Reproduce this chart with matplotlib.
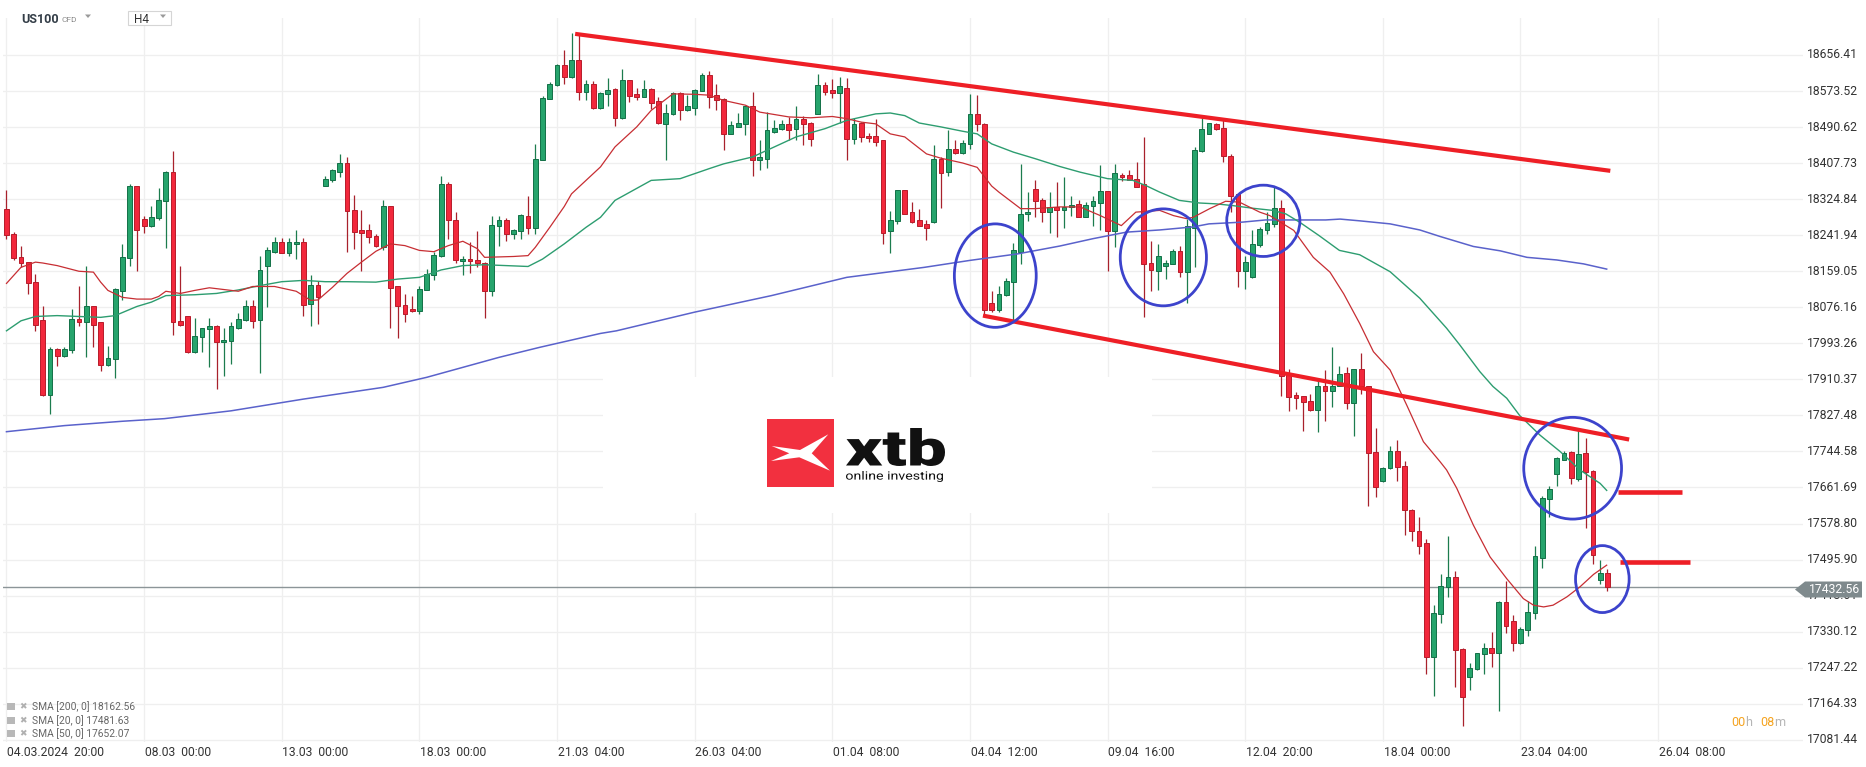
import matplotlib
matplotlib.use('Agg')
import matplotlib.pyplot as plt
import numpy as np
from matplotlib.patches import Rectangle, Polygon, Ellipse, PathPatch
from matplotlib.textpath import TextPath
from matplotlib.font_manager import FontProperties
from matplotlib.transforms import Affine2D, blended_transform_factory

plt.rcParams['font.family'] = ['Roboto', 'DejaVu Sans']

# ---------------------------------------------------------------
# US100 H4 candles (one per bar, oldest first)
opens = [18303, 18245, 18192, 18180, 18135, 18047, 17874, 17980, 17963, 17978,
         18049, 18042, 18078, 18042, 17943, 17957, 18113, 18189, 18354, 18280,
         18263, 18282, 18320, 18387, 18044, 18055, 17973, 18007, 18026, 18032,
         17996, 17999, 18028, 18047, 18080, 18047, 18171, 18203, 18227, 18201,
         18222, 18227, 18084, 18128, 18356, 18368, 18387, 18409, 18300, 18253,
         18253, 18241, 18214, 18308, 18124, 18082, 18072, 18067, 18116, 18151,
         18193, 18359, 18277, 18182, 18187, 18184, 18178, 18113, 18263, 18277,
         18245, 18251, 18286, 18258, 18415, 18556, 18587, 18634, 18606, 18646,
         18571, 18590, 18534, 18567, 18579, 18512, 18598, 18567, 18560, 18579,
         18550, 18498, 18521, 18570, 18529, 18535, 18574, 18610, 18564, 18556,
         18475, 18491, 18498, 18538, 18415, 18418, 18479, 18486, 18497, 18487,
         18510, 18501, 18521, 18588, 18575, 18569, 18581, 18464, 18500, 18471,
         18471, 18460, 18251, 18274, 18346, 18295, 18276, 18267, 18272, 18418,
         18387, 18441, 18432, 18452, 18520, 18498, 18086, 18069, 18105, 18134,
         18203, 18290, 18349, 18323, 18295, 18306, 18299, 18306, 18314, 18284,
         18309, 18316, 18343, 18251, 18381, 18381, 18372, 18360, 18178, 18159,
         18171, 18176, 18205, 18157, 18259, 18435, 18475, 18498, 18489, 18425,
         18337, 18159, 18145, 18220, 18255, 18268, 18305, 17923, 17875, 17871,
         17861, 17840, 17896, 17883, 17896, 17925, 17857, 17934, 17895, 17744,
         17676, 17706, 17746, 17712, 17611, 17562, 17533, 17272, 17370, 17433,
         17456, 17291, 17226, 17245, 17278, 17293, 17281, 17399, 17355, 17304,
         17333, 17373, 17500, 17635, 17693, 17725, 17744, 17681, 17740, 17700,
         17450, 17465]
highs = [18345, 18250, 18216, 18181, 18153, 18080, 17984, 17982, 17984, 18072,
         18124, 18172, 18079, 18043, 17986, 18120, 18222, 18360, 18356, 18287,
         18308, 18350, 18389, 18435, 18172, 18056, 18052, 18029, 18052, 18036,
         18028, 18042, 18062, 18092, 18092, 18195, 18214, 18237, 18235, 18235,
         18254, 18235, 18151, 18136, 18379, 18395, 18428, 18422, 18335, 18299,
         18267, 18245, 18322, 18310, 18126, 18107, 18103, 18124, 18164, 18203,
         18379, 18364, 18296, 18195, 18226, 18251, 18180, 18287, 18285, 18282,
         18257, 18291, 18333, 18452, 18561, 18594, 18636, 18667, 18708, 18706,
         18600, 18596, 18571, 18604, 18581, 18625, 18600, 18581, 18600, 18580,
         18560, 18544, 18571, 18571, 18564, 18578, 18615, 18620, 18589, 18557,
         18504, 18524, 18539, 18571, 18460, 18525, 18506, 18508, 18514, 18538,
         18515, 18502, 18612, 18594, 18602, 18606, 18604, 18512, 18502, 18477,
         18510, 18461, 18297, 18346, 18347, 18318, 18303, 18276, 18450, 18422,
         18483, 18460, 18460, 18567, 18565, 18500, 18113, 18124, 18144, 18224,
         18406, 18341, 18369, 18328, 18341, 18364, 18375, 18331, 18324, 18318,
         18333, 18403, 18344, 18406, 18385, 18391, 18410, 18468, 18228, 18222,
         18184, 18211, 18216, 18280, 18445, 18512, 18501, 18499, 18506, 18428,
         18338, 18195, 18253, 18261, 18295, 18353, 18323, 17934, 17881, 17873,
         17877, 17911, 17933, 17984, 17942, 17938, 17935, 17970, 17896, 17798,
         17709, 17756, 17772, 17723, 17612, 17594, 17543, 17391, 17462, 17551,
         17470, 17292, 17259, 17282, 17303, 17330, 17400, 17447, 17369, 17341,
         17401, 17528, 17643, 17666, 17731, 17746, 17745, 17795, 17776, 17702,
         17495, 17475]
lows = [18233, 18185, 18168, 18107, 18022, 17872, 17831, 17940, 17961, 17971,
        18032, 17961, 17984, 17930, 17940, 17913, 18092, 18172, 18159, 18247,
        18260, 18277, 18213, 18012, 18034, 17971, 17971, 17973, 17938, 17888,
        17917, 17946, 18026, 18045, 18028, 17926, 18076, 18202, 18200, 18195,
        18188, 18055, 18033, 18038, 18354, 18364, 18376, 18203, 18211, 18159,
        18224, 18214, 18207, 18028, 18005, 18042, 18065, 18061, 18115, 18139,
        18191, 18233, 18178, 18151, 18154, 18168, 18051, 18103, 18217, 18228,
        18233, 18233, 18245, 18245, 18414, 18555, 18584, 18590, 18604, 18552,
        18554, 18533, 18533, 18538, 18492, 18510, 18548, 18554, 18559, 18533,
        18497, 18414, 18518, 18506, 18527, 18518, 18573, 18535, 18529, 18439,
        18474, 18490, 18472, 18378, 18391, 18396, 18478, 18485, 18460, 18460,
        18450, 18447, 18520, 18564, 18558, 18501, 18414, 18452, 18456, 18456,
        18448, 18222, 18201, 18268, 18290, 18271, 18262, 18232, 18271, 18305,
        18378, 18429, 18429, 18441, 18481, 18057, 18065, 18065, 18102, 18045,
        18176, 18274, 18283, 18272, 18247, 18237, 18258, 18285, 18283, 18283,
        18264, 18253, 18159, 18214, 18366, 18368, 18352, 18053, 18113, 18117,
        18142, 18175, 18145, 18086, 18168, 18434, 18474, 18483, 18410, 18295,
        18122, 18119, 18144, 18214, 18244, 18261, 17873, 17838, 17842, 17792,
        17838, 17789, 17815, 17846, 17894, 17842, 17780, 17877, 17619, 17639,
        17675, 17704, 17676, 17552, 17539, 17508, 17232, 17182, 17350, 17410,
        17203, 17113, 17195, 17243, 17232, 17249, 17148, 17327, 17286, 17301,
        17320, 17359, 17477, 17593, 17666, 17724, 17670, 17677, 17569, 17485,
        17440, 17423]
closes = [18243, 18189, 18178, 18132, 18036, 17874, 17980, 17963, 17980, 18049,
          18042, 18078, 18036, 17943, 17959, 18118, 18191, 18354, 18253, 18263,
          18283, 18323, 18387, 18042, 18036, 17973, 18011, 18028, 18032, 17996,
          18002, 18032, 18049, 18080, 18044, 18161, 18207, 18227, 18201, 18227,
          18227, 18082, 18128, 18099, 18372, 18392, 18409, 18297, 18249, 18247,
          18237, 18217, 18308, 18121, 18080, 18061, 18067, 18118, 18153, 18197,
          18359, 18276, 18185, 18187, 18182, 18178, 18113, 18266, 18277, 18245,
          18254, 18289, 18258, 18418, 18558, 18590, 18634, 18606, 18646, 18571,
          18590, 18534, 18570, 18575, 18512, 18598, 18562, 18560, 18579, 18546,
          18500, 18523, 18570, 18531, 18538, 18577, 18610, 18560, 18554, 18475,
          18495, 18501, 18538, 18415, 18422, 18485, 18489, 18497, 18485, 18510,
          18497, 18464, 18588, 18571, 18569, 18586, 18464, 18498, 18468, 18466,
          18456, 18247, 18277, 18345, 18291, 18272, 18263, 18258, 18418, 18385,
          18441, 18432, 18455, 18520, 18497, 18069, 18069, 18107, 18136, 18207,
          18291, 18296, 18320, 18295, 18306, 18300, 18306, 18312, 18284, 18312,
          18320, 18343, 18251, 18386, 18376, 18370, 18353, 18176, 18162, 18193,
          18178, 18205, 18157, 18262, 18437, 18487, 18500, 18487, 18425, 18333,
          18159, 18180, 18222, 18257, 18270, 18305, 17919, 17869, 17868, 17858,
          17840, 17896, 17883, 17894, 17923, 17856, 17934, 17894, 17742, 17663,
          17707, 17746, 17709, 17611, 17562, 17528, 17272, 17374, 17435, 17456,
          17289, 17180, 17247, 17281, 17293, 17281, 17399, 17343, 17304, 17337,
          17376, 17505, 17638, 17658, 17730, 17742, 17683, 17738, 17698, 17506,
          17466, 17432.56]

# moving averages, read at sampled bars
sma20_bars = [0, 2, 4, 5, 7, 10, 12, 13, 14, 16, 18, 20, 21, 22, 24, 26, 28, 31, 32, 34,
              37, 40, 42, 43, 45, 47, 49, 51, 53, 55, 57, 59, 61, 63, 65, 66, 70, 72, 73, 75,
              77, 78, 80, 82, 84, 87, 89, 92, 95, 97, 99, 102, 104, 108, 111, 114, 116, 118, 120, 122,
              124, 127, 129, 132, 134, 136, 137, 140, 142, 145.4, 148.2, 151, 153.9, 155.9, 159.2,
              161.1, 162.9, 163.8, 166.1, 168.3, 170.2, 173, 174.4, 177.7, 180.4, 182.7, 184.6,
              186.8, 188.7, 191, 193.3, 195.6, 197.9, 198.8, 200.2, 202.5, 204.8, 207.1, 209.4,
              210.8, 212.2, 213.5, 215.4, 217.2, 219.1, 220.9]
sma20_vals = [18131, 18168, 18180, 18178, 18172, 18159, 18157, 18134, 18115, 18099, 18095, 18095, 18101,
              18113, 18108, 18115, 18121, 18115, 18113, 18124, 18124, 18113, 18092, 18093, 18122, 18154,
              18180, 18205, 18222, 18218, 18207, 18204, 18218, 18228, 18211, 18191, 18193, 18195, 18214,
              18260, 18308, 18337, 18368, 18399, 18445, 18491, 18529, 18567, 18566, 18564, 18552, 18541,
              18525, 18514, 18512, 18515, 18510, 18502, 18498, 18475, 18468, 18429, 18419, 18408, 18398,
              18355, 18341, 18303, 18303, 18307, 18307, 18287, 18264, 18295, 18299, 18287, 18280, 18283,
              18303, 18320, 18318, 18295, 18287, 18253, 18191, 18157, 18107, 18039, 17974, 17932, 17851,
              17767, 17721, 17702, 17660, 17575, 17502, 17452, 17406, 17391, 17387, 17391, 17410, 17433,
              17462, 17483]
sma50_bars = [0, 2, 4, 7, 10, 13, 15, 18, 20, 22, 26, 29, 32, 35, 38, 41, 44, 47, 51, 54,
              57, 60, 63, 66, 69, 72, 74, 77, 80, 82, 84, 89, 93, 97, 99, 103, 106, 109, 113, 116,
              120, 122, 124, 126, 129, 132, 134, 136, 139, 142, 145.4, 148.2, 152, 155.5, 157.3,
              159.2, 161.9, 164.7, 167, 169.3, 172, 174.8, 176.6, 178.5, 181.2, 184, 186.8, 191,
              195.1, 198.8, 200.6, 203.4, 205.2, 207.1, 208.9, 211.7, 214.5, 217.2, 220, 220.9]
sma50_vals = [18022, 18045, 18055, 18057, 18055, 18053, 18057, 18078, 18088, 18103, 18105, 18108, 18116,
              18126, 18135, 18138, 18135, 18135, 18134, 18141, 18145, 18162, 18172, 18174, 18172, 18170,
              18187, 18222, 18260, 18283, 18322, 18368, 18372, 18395, 18406, 18422, 18445, 18468, 18487,
              18506, 18521, 18523, 18517, 18500, 18491, 18481, 18475, 18452, 18433, 18418, 18400, 18387,
              18372, 18368, 18356, 18341, 18322, 18316, 18314, 18310, 18304, 18299, 18291, 18272, 18241,
              18207, 18197, 18158, 18097, 18028, 17990, 17928, 17894, 17867, 17827, 17782, 17744, 17702,
              17671, 17655]
sma200_bars = [0, 8, 16, 21.8, 31, 41, 52, 58, 63, 68, 73.6, 82, 84.2, 95, 105.6, 116, 126.7, 133,
               139.6, 145.4, 150, 154.6, 159.2, 163.8, 166, 170.6, 173.8, 177.5, 182.1, 184.1, 186.8,
               191, 195.1, 197.9, 202.5, 206.2, 209.9, 214, 217.7, 220.9]
sma200_vals = [17790, 17804, 17814, 17820, 17838, 17865, 17892, 17915, 17938, 17961, 17984, 18016, 18022,
               18065, 18103, 18145, 18168, 18184, 18199, 18217, 18234, 18249, 18254, 18261, 18268, 18272,
               18277, 18277, 18277, 18279, 18275, 18268, 18254, 18239, 18216, 18206, 18191, 18185, 18176,
               18164]

price_levels = [18656.41, 18573.52, 18490.62, 18407.73, 18324.84, 18241.94, 18159.05, 18076.16,
                17993.26, 17910.37, 17827.48, 17744.58, 17661.69, 17578.80, 17495.90, 17413.01,
                17330.12, 17247.22, 17164.33, 17081.44]
date_bars = [0, 19, 38, 57, 76, 95, 114, 133, 152, 171, 190, 209, 228]
date_labels = ['04.03.2024  20:00', '08.03  00:00', '13.03  00:00', '18.03  00:00', '21.03  04:00',
               '26.03  04:00', '01.04  08:00', '04.04  12:00', '09.04  16:00', '12.04  20:00',
               '18.04  00:00', '23.04  04:00', '26.04  08:00']
last_price = 17432.56
sma_legend = ['SMA [200, 0] 18162.56', 'SMA [20, 0] 17481.63', 'SMA [50, 0] 17652.07']

# hand drawn annotations (bar, price)
top_line_bars, top_line_vals = [78.5, 221.4], [18705, 18390]
low_line_bars, low_line_vals = [134.8, 224.0], [18057, 17772]
target_levels = [17651, 17490]
target_starts = [222.5, 222.7]
target_ends = [231.3, 232.4]
circle_bars = [136.5, 159.7, 173.5, 216.2, 220.3]
circle_vals = [18149, 18191, 18275, 17706, 17451]
circle_w = [11.3, 11.9, 10.1, 13.5, 7.4]
circle_h = [238, 223, 164, 234, 154]

# ---------------------------------------------------------------
W, H = 1866, 767
fig = plt.figure(figsize=(W / 100, H / 100), dpi=100)
fig.patch.set_facecolor('white')
ax = fig.add_axes([3 / W, 1 - 742 / H, 1800 / W, 724 / H])
ax.set_xlim(-0.48, 248.0)
ax.set_ylim(17076.3, 18741.5)
ax.axis('off')

# pixel transform (x right, y down, like the screenshot)
tpx = Affine2D().scale(1, -1).translate(0, H)

# grid
for p in price_levels:
    ax.axhline(p, color='#efefef', lw=0.9, zorder=0)
for b in date_bars:
    ax.axvline(b, color='#efefef', lw=0.9, zorder=0)
# white box behind logo hides the grid
ax.add_patch(Rectangle((603 / W, 1 - 513 / H), 549 / W, 136 / H, transform=fig.transFigure,
                       fc='white', ec='none', zorder=0.5))

ax.axhline(last_price, color='#8c9598', lw=1.0, zorder=1)

# candles
x = np.arange(len(opens))
o, hi, lo, c = map(np.array, (opens, highs, lows, closes))
up = c >= o
ax.vlines(x, lo, hi, colors=['#1c7c4e' if u else '#a8212c' for u in up], lw=0.9, zorder=2)
ax.bar(x, np.maximum(np.abs(c - o), 2.0), bottom=np.minimum(o, c), width=0.66,
       color=['#26a46c' if u else '#f2283c' for u in up],
       edgecolor=['#137047' if u else '#b81c2a' for u in up], linewidth=0.7, zorder=3)

# moving averages
ax.plot(sma200_bars, sma200_vals, color='#5a62cb', lw=1.1, zorder=4)
ax.plot(sma50_bars, sma50_vals, color='#2d9d70', lw=1.0, zorder=4)
ax.plot(sma20_bars, sma20_vals, color='#c72e33', lw=0.9, zorder=4)

# channel / targets / circles
ax.plot(top_line_bars, top_line_vals, color='#ee1f26', lw=3, solid_capstyle='butt', zorder=5)
ax.plot(low_line_bars, low_line_vals, color='#ee1f26', lw=3, solid_capstyle='butt', zorder=5)
for lv, s, e in zip(target_levels, target_starts, target_ends):
    ax.plot([s, e], [lv, lv], color='#ee1f26', lw=3.3, solid_capstyle='butt', zorder=5)
for cx, cy, w, h in zip(circle_bars, circle_vals, circle_w, circle_h):
    ax.add_patch(Ellipse((cx, cy), w, h, fill=False, ec='#3c43cc', lw=2, zorder=6))

# axis labels
tr = blended_transform_factory(fig.transFigure, ax.transData)
for p in price_levels:
    fig.text(1807 / W, p, f'{p:.2f}', transform=tr, ha='left', va='center', fontsize=8.7, color='#333333')
tb = blended_transform_factory(ax.transData, fig.transFigure)
for b, s in zip(date_bars, date_labels):
    ax.text(b + 0.1, 1 - 752 / H, s, transform=tb, ha='left', va='center', fontsize=8.7,
            color='#333333', clip_on=False)

# last price tag
fig.add_artist(Polygon([(1795, 589.5), (1805, 581.5), (1862, 581.5), (1862, 597.5), (1805, 597.5)],
                       closed=True, fc='#7f8a8d', ec='none', transform=tpx, zorder=10))
fig.text(1834 / W, 1 - 589.5 / H, f'{last_price:.2f}', ha='center', va='center', fontsize=8.7,
         color='white', zorder=11)

# countdown
for s, xx, col in [('00', 1731, '#f5a31f'), ('h', 1745, '#b5b5b5'),
                   ('08', 1760, '#f5a31f'), ('m', 1774, '#b5b5b5')]:
    fig.text(xx / W, 1 - 722 / H, s, color=col, fontsize=9, va='center')

# header
fig.text(21 / W, 1 - 19.5 / H, 'US100', fontsize=9, fontweight='bold', color='#333d47', va='center')
fig.text(61 / W, 1 - 20 / H, 'CFD', fontsize=6, color='#8a8a8a', va='center')
fig.add_artist(Polygon([(85, 14.5), (91, 14.5), (88, 18)], closed=True, fc='#9a9a9a', ec='none',
                       transform=tpx))
fig.add_artist(Rectangle((128, 11), 43, 14, fc='white', ec='#d5d5d5', lw=0.8, transform=tpx))
fig.text(134 / W, 1 - 19.5 / H, 'H4', fontsize=8.5, color='#333333', va='center')
fig.add_artist(Polygon([(160, 14.5), (166, 14.5), (163, 18)], closed=True, fc='#9a9a9a', ec='none',
                       transform=tpx))

# indicator legend
for k, s in enumerate(sma_legend):
    yy = 707 + 13.5 * k
    fig.add_artist(Rectangle((7, yy - 4), 8, 7, fc='#b8b8b8', ec='none', transform=tpx))
    fig.text(19 / W, 1 - yy / H, '\u2716', fontsize=6.5, color='#b0b0b0', va='center',
             family='DejaVu Sans')
    fig.text(32 / W, 1 - yy / H, s, fontsize=7.4, color='#666666', va='center')

# xtb logo
def fit_text(s, x0, y0, x1, y1, weight, color):
    path = TextPath((0, 0), s, size=100, prop=FontProperties(family='Roboto', weight=weight))
    bb = path.get_extents()
    t = Affine2D().translate(-bb.x0, -bb.y0).scale((x1 - x0) / bb.width, (y1 - y0) / bb.height) \
        .translate(x0, H - y1)
    fig.add_artist(PathPatch(path, transform=t, fc=color, ec='none', zorder=8))

fig.add_artist(Rectangle((767, 419), 67, 68, fc='#f2303f', ec='none', transform=tpx, zorder=7))
fig.add_artist(Polygon([(771.7, 446), (800, 450), (828.3, 434.3), (811.7, 453.3), (830, 470.7),
                        (799.3, 457.3), (771, 461), (789.3, 453.3)], closed=True, fc='white',
                       ec='none', transform=tpx, zorder=8))
fit_text('xtb', 846, 428, 945, 466, 'black', '#111111')
fit_text('online investing', 846, 471, 943, 482, 'normal', '#111111')

fig.savefig('out.png', dpi=100, facecolor='white')
